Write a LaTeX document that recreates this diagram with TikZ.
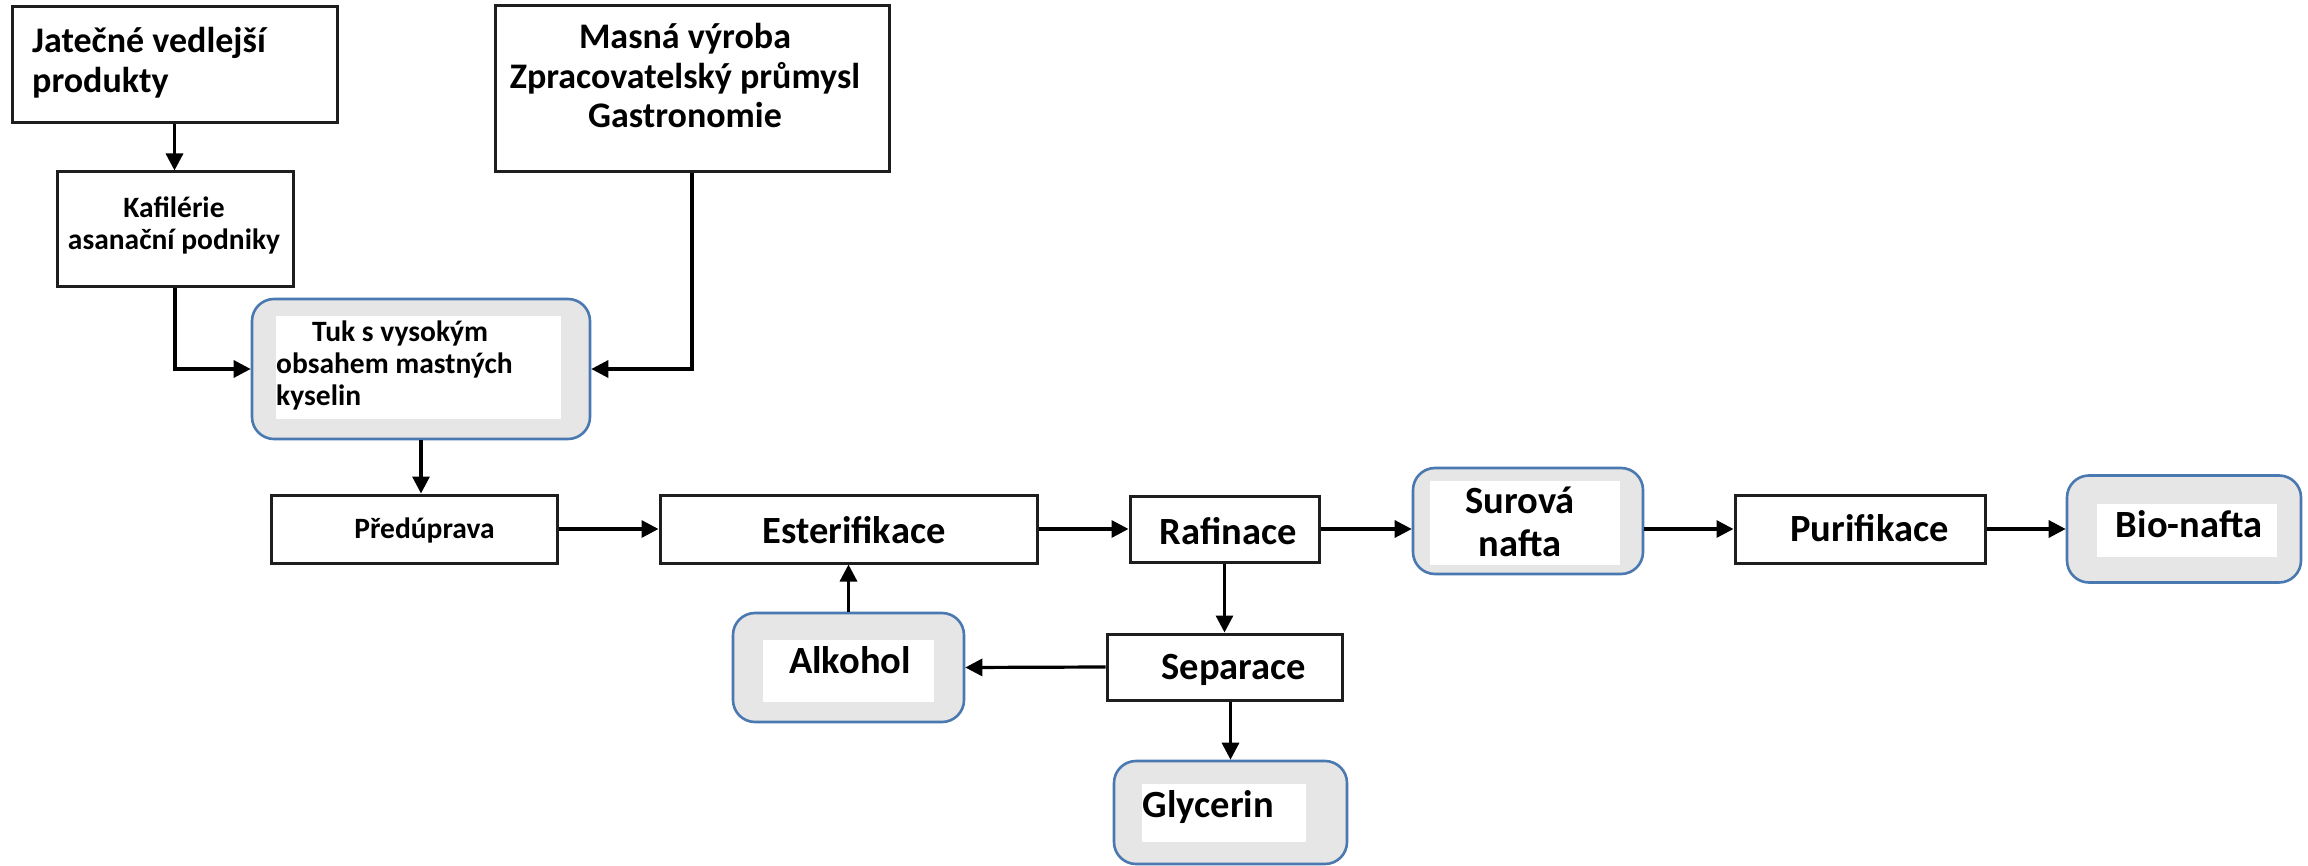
\documentclass[tikz,border=0pt]{standalone}
\usepackage{fontspec}
\setmainfont{Carlito}
\usetikzlibrary{arrows.meta}
\definecolor{rborder}{RGB}{74,120,176}
\definecolor{rfill}{RGB}{230,230,230}
\definecolor{boxline}{RGB}{30,30,30}
\begin{document}
\begin{tikzpicture}[x=1pt,y=-1pt,
  sqbox/.style={draw=boxline,line width=3pt,fill=white,inner sep=0pt,minimum width=#1},
  rbox/.style={draw=rborder,line width=2.6pt,fill=rfill,rounded corners=22pt,inner sep=0pt},
  wbox/.style={fill=white,inner sep=0pt},
  txt/.style={inner sep=0pt,font=\bfseries},
  conn/.style={draw=black,line width=3.2pt,-{Triangle[length=17pt,width=17pt]}}
]
\useasboundingbox[fill=white] (0,0) rectangle (2308,866);

% square boxes
\node[sqbox=325pt,minimum height=116pt] (jat) at (174.5,65) {};
\node[sqbox=236pt,minimum height=115pt] (kaf) at (175,229.5) {};
\node[sqbox=394pt,minimum height=166pt] (mas) at (692,89) {};
\node[sqbox=286pt,minimum height=68pt] (pre) at (414,529) {};
\node[sqbox=377pt,minimum height=68pt] (est) at (848.5,529) {};
\node[sqbox=189pt,minimum height=66pt] (raf) at (1224.5,529) {};
\node[sqbox=235pt,minimum height=66pt] (sep) at (1224.5,667) {};
\node[sqbox=250pt,minimum height=68pt] (pur) at (1860,529) {};

% rounded boxes
\node[rbox,minimum width=338pt,minimum height=140pt] (tuk) at (421,369) {};
\node[wbox,minimum width=285pt,minimum height=103pt] (tukw) at (418.5,367.5) {};
\node[rbox,minimum width=231pt,minimum height=109pt] (alk) at (848.5,667.5) {};
\node[wbox,minimum width=171pt,minimum height=62pt] (alkw) at (848.5,671) {};
\node[rbox,minimum width=233pt,minimum height=103pt] (gly) at (1230.5,812.5) {};
\node[wbox,minimum width=164pt,minimum height=58pt] (glyw) at (1224,813) {};
\node[rbox,minimum width=230pt,minimum height=106pt] (sur) at (1528,521) {};
\node[wbox,minimum width=190pt,minimum height=84pt] (surw) at (1525,523) {};
\node[rbox,minimum width=234pt,minimum height=107pt] (bio) at (2184,529) {};
\node[wbox,minimum width=180pt,minimum height=53pt] (biow) at (2187,530.5) {};

% texts (multi-line nodes anchored at the baseline of their last line)
\node[txt,anchor=base west,align=left,font=\bfseries\fontsize{36}{40}\selectfont] (tjat) at (32,93) {Jatečné vedlejší\\produkty};
\node[txt,anchor=base,align=center,font=\bfseries\fontsize{29.5}{32}\selectfont] (tkaf) at (174,250) {Kafilérie\\asanační podniky};
\node[txt,anchor=base,align=center,font=\bfseries\fontsize{36}{39.5}\selectfont] (tmas) at (685,128) {Masná výroba\\Zpracovatelský průmysl\\Gastronomie};
\node[txt,anchor=base west,align=left,font=\bfseries\fontsize{29.5}{32}\selectfont] (ttuk) at (276,406) {\hspace*{36pt}Tuk s vysokým\\obsahem mastných\\kyselin};
\node[txt,anchor=base,font=\bfseries\fontsize{29.5}{32}\selectfont] (tpre) at (424.5,538) {Předúprava};
\node[txt,anchor=base,font=\bfseries\fontsize{38.5}{43}\selectfont] (test) at (854,543) {Esterifikace};
\node[txt,anchor=base,font=\bfseries\fontsize{38.5}{43}\selectfont] (traf) at (1228,544) {Rafinace};
\node[txt,anchor=base,font=\bfseries\fontsize{38.5}{43}\selectfont] (tsep) at (1234,679) {Separace};
\node[txt,anchor=base,font=\bfseries\fontsize{38.5}{43}\selectfont] (talk) at (850,673) {Alkohol};
\node[txt,anchor=base,font=\bfseries\fontsize{38.5}{43}\selectfont] (tgly) at (1208.5,817) {Glycerin};
\node[txt,anchor=base,align=center,font=\bfseries\fontsize{38.5}{43}\selectfont] (tsur) at (1520,556) {Surová\\nafta};
\node[txt,anchor=base,font=\bfseries\fontsize{38.5}{43}\selectfont] (tpur) at (1869.5,541) {Purifikace};
\node[txt,anchor=base,font=\bfseries\fontsize{38.5}{43}\selectfont] (tbio) at (2189,537) {Bio-nafta};

% connectors
\draw[conn] (jat.south) -- (jat.south |- kaf.north);
\draw[conn] (kaf.south) |- (tuk.west);
\draw[conn] (mas.south) |- (tuk.east);
\draw[conn] (tuk.south) -- (tuk.south |- pre.north);
\draw[conn] (pre.east) -- (est.west);
\draw[conn] (est.east) -- (raf.west);
\draw[conn] (raf.east) -- (raf.east -| sur.west);
\draw[conn] (sur.east |- pur.west) -- (pur.west);
\draw[conn] (pur.east) -- (bio.west);
\draw[conn] (raf.south) -- (raf.south |- sep.north);
\draw[conn] (sep.west) -- (alk.east);
\draw[conn] (alk.north) -- (est.south);
\draw[conn] (gly.north |- sep.south) -- (gly.north);
\end{tikzpicture}
\end{document}
